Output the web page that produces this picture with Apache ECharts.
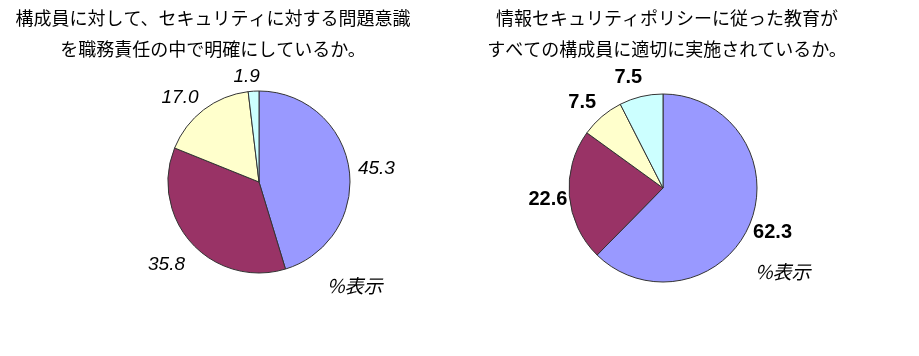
<!DOCTYPE html>
<html><head><meta charset="utf-8">
<script src="https://cdn.jsdelivr.net/npm/echarts@6/dist/echarts.min.js"></script>
<style>html,body{margin:0;padding:0;background:#fff}#c{width:919px;height:356px}</style>
</head><body><div id="c"></div>
<script>
const categories = ['A', 'B', 'C', 'D'];
const leftValues = [45.3, 35.8, 17.0, 1.9];
const rightValues = [62.3, 22.6, 7.5, 7.5];
const colors = ['#9999FF', '#993366', '#FFFFCC', '#CCFFFF'];
const leftTitle = '構成員に対して、セキュリティに対する問題意識\nを職務責任の中で明確にしているか。';
const rightTitle = '情報セキュリティポリシーに従った教育が\nすべての構成員に適切に実施されているか。';
const unitNote = '%表示';
const leftLabelShift = [[-8, 2], [7, 13], [5, -4], [12, -2]];
const rightLabelShift = [[-13, 4], [15, 3], [7, -5], [9, -7]];

const chart = echarts.init(document.getElementById('c'));
const mk = (vals, shifts) => categories.map((n, i) => ({ name: n, value: vals[i],
  itemStyle: { color: colors[i] }, label: { offset: shifts[i] } }));
const cjk = '"Noto Sans CJK JP", sans-serif';
chart.setOption({
  animation: false,
  title: [
    { text: leftTitle, left: 208, top: -2, textAlign: 'center',
      textStyle: { fontFamily: cjk, fontSize: 18, fontWeight: 'normal', color: '#000', lineHeight: 31, align: 'center' } },
    { text: rightTitle, left: 662, top: -2, textAlign: 'center',
      textStyle: { fontFamily: cjk, fontSize: 18, fontWeight: 'normal', color: '#000', lineHeight: 31, align: 'center' } }
  ],
  graphic: [
    { type: 'text', left: 327, top: 276, style: { text: unitNote, font: 'italic 19px ' + cjk, fill: '#000' } },
    { type: 'text', left: 755, top: 262, style: { text: unitNote, font: 'italic 19px ' + cjk, fill: '#000' } }
  ],
  series: [
    {
      type: 'pie', center: [259, 182], radius: 91, startAngle: 90, clockwise: true,
      data: mk(leftValues, leftLabelShift),
      itemStyle: { borderColor: '#333', borderWidth: 1 },
      label: { show: true, position: 'outside', formatter: (p) => p.value.toFixed(1),
        fontFamily: 'Liberation Sans, Arial', fontStyle: 'italic', fontSize: 19, color: '#000' },
      labelLine: { show: false, length: 12, length2: 0 }
    },
    {
      type: 'pie', center: [663, 188], radius: 94, startAngle: 90, clockwise: true,
      data: mk(rightValues, rightLabelShift),
      itemStyle: { borderColor: '#333', borderWidth: 1 },
      label: { show: true, position: 'outside', formatter: (p) => p.value.toFixed(1),
        fontFamily: 'Liberation Sans, Arial', fontWeight: 'bold', fontSize: 20, color: '#000' },
      labelLine: { show: false, length: 12, length2: 0 }
    }
  ]
});
</script></body></html>
